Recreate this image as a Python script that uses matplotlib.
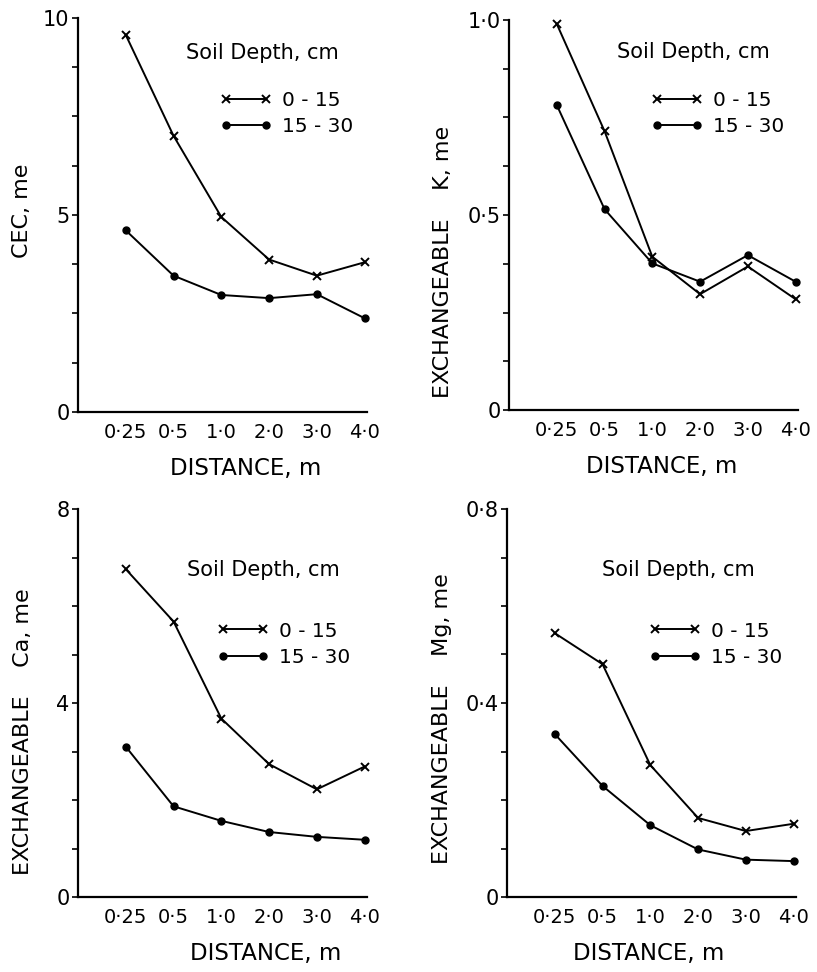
import matplotlib
matplotlib.use("Agg")
import matplotlib.pyplot as plt
from matplotlib.ticker import MultipleLocator, FixedLocator, FixedFormatter

plt.rcParams['font.family'] = ['DejaVu Sans']

# distances (categorical, evenly spaced on the x axis)
distances = ['0·25', '0·5', '1·0', '2·0', '3·0', '4·0']
depths = ['0 - 15', '15 - 30']

cec_0_15 = [9.57, 7.01, 4.95, 3.87, 3.46, 3.80]
cec_15_30 = [4.61, 3.46, 2.97, 2.89, 2.99, 2.38]

k_0_15 = [0.99, 0.715, 0.393, 0.297, 0.368, 0.284]
k_15_30 = [0.782, 0.515, 0.376, 0.329, 0.397, 0.329]

ca_0_15 = [6.76, 5.68, 3.68, 2.74, 2.22, 2.69]
ca_15_30 = [3.10, 1.87, 1.57, 1.34, 1.24, 1.18]

mg_0_15 = [0.544, 0.480, 0.272, 0.163, 0.136, 0.151]
mg_15_30 = [0.336, 0.229, 0.148, 0.098, 0.077, 0.074]

ylabels = ['CEC, me', 'EXCHANGEABLE    K, me', 'EXCHANGEABLE    Ca, me', 'EXCHANGEABLE    Mg, me']
ymax = [10, 1.0, 8, 0.8]
ytick_labels = [['0', '5', '10'], ['0', '0·5', '1·0'], ['0', '4', '8'], ['0', '0·4', '0·8']]

W, H = 817, 972
fig = plt.figure(figsize=(W / 100, H / 100), dpi=100)

# pixel boxes: left, top, right, bottom of the axes
boxes = [(78, 18, 367, 412), (509, 20, 798, 410), (78, 509, 367, 897), (507, 509, 796, 897)]
title_pos = [(0.375, 0.91), (0.372, 0.918), (0.378, 0.843), (0.33, 0.843)]
leg_pos = [(0.49, 0.815), (0.49, 0.818), (0.48, 0.71), (0.49, 0.71)]
xlab_x = [0.58, 0.53, 0.65, 0.49]
ylab_x = [-0.16, -0.195, -0.155, -0.19]
ylab_y = [0.51, 0.38, 0.425, 0.46]

series = [(cec_0_15, cec_15_30), (k_0_15, k_15_30), (ca_0_15, ca_15_30), (mg_0_15, mg_15_30)]
x = list(range(1, len(distances) + 1))

for i, (top, bottom) in enumerate(series):
    l, t, r, b = boxes[i]
    ax = fig.add_axes([l / W, (H - b) / H, (r - l) / W, (b - t) / H])
    ax.plot(x, top, color='black', lw=1.4, marker='x', ms=6, mew=1.4,
            clip_on=False, label=depths[0])
    ax.plot(x, bottom, color='black', lw=1.4, marker='o', ms=5,
            clip_on=False, label=depths[1])
    ax.set_xlim(0, 6.05)
    ax.set_ylim(0, ymax[i])
    for s in ['top', 'right']:
        ax.spines[s].set_visible(False)
    for s in ['left', 'bottom']:
        ax.spines[s].set_linewidth(1.6)
    ax.set_xticks(x)
    ax.set_xticklabels(distances, fontsize=14)
    ax.tick_params(axis='x', length=0, pad=8)
    ax.yaxis.set_major_locator(FixedLocator([0, ymax[i] / 2, ymax[i]]))
    ax.yaxis.set_major_formatter(FixedFormatter(ytick_labels[i]))
    ax.yaxis.set_minor_locator(MultipleLocator(ymax[i] / 8))
    ax.tick_params(axis='y', which='both', direction='out', length=4, width=1.2,
                   labelsize=15, pad=2)
    ax.set_xlabel('DISTANCE, m', fontsize=16.5)
    ax.xaxis.set_label_coords(xlab_x[i], -0.115)
    ax.set_ylabel(ylabels[i], fontsize=16)
    ax.yaxis.set_label_coords(ylab_x[i], ylab_y[i])
    ax.text(title_pos[i][0], title_pos[i][1], 'Soil Depth, cm', transform=ax.transAxes,
            fontsize=15, va='center', ha='left')
    ax.legend(loc='upper left', bbox_to_anchor=leg_pos[i], frameon=False, numpoints=2,
              handlelength=2.6, handletextpad=0.5, labelspacing=0.35, fontsize=14.5,
              borderpad=0, borderaxespad=0)

fig.savefig('out.png', dpi=100)
